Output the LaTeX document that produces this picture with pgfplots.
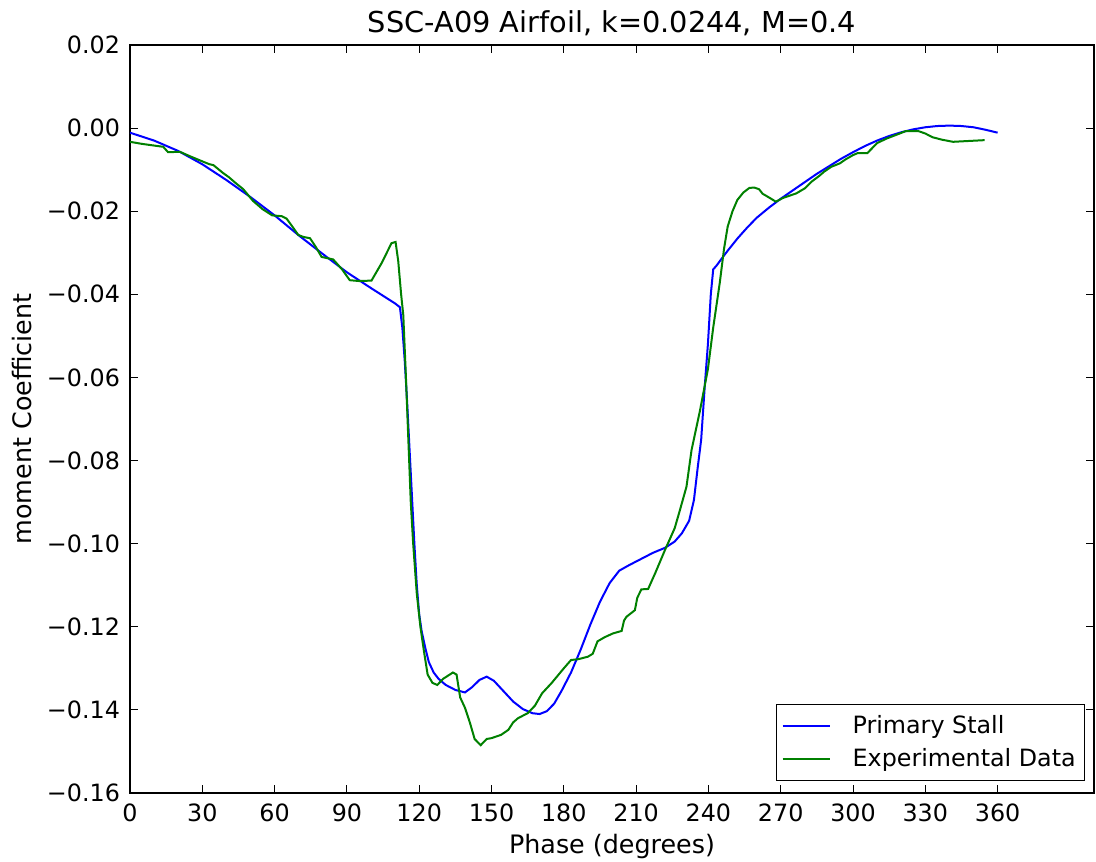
\documentclass[border=0pt]{standalone}
\usepackage{pgfplots}
\pgfplotsset{compat=1.18}
\usepackage{fontspec}
\setmainfont{DejaVu Sans}
\definecolor{mplblue}{rgb}{0,0,1}
\definecolor{mplgreen}{rgb}{0,0.5,0}
\begin{document}
\begin{tikzpicture}
\useasboundingbox (-65pt,-34pt) rectangle (483pt,396.5pt);
\begin{axis}[
  scale only axis,
  width=482pt, height=374pt,
  xmin=0, xmax=400, ymin=-0.16, ymax=0.02,
  xtick={0,30,...,360},
  ytick={-0.16,-0.14,-0.12,-0.10,-0.08,-0.06,-0.04,-0.02,0.00,0.02},
  yticklabels={−0.16,−0.14,−0.12,−0.10,−0.08,−0.06,−0.04,−0.02,0.00,0.02},
  xticklabels={0,30,60,90,120,150,180,210,240,270,300,330,360},
  tick align=inside,
  major tick length=4pt,
  tick style={black, line width=0.5pt},
  axis line style={black, line width=0.6pt},
  ticklabel style={font=\fontsize{11.9}{13}\selectfont},
  xticklabel style={yshift=-2pt},
  yticklabel style={xshift=-1.5pt},
  /pgf/number format/assume math mode=true,
  title={SSC-A09 Airfoil, k=0.0244, M=0.4},
  title style={font=\fontsize{14.4}{16}\selectfont, at={(axis description cs:0.5,1)}, anchor=base},
  xlabel={Phase (degrees)},
  ylabel={moment Coefficient},
  label style={font=\fontsize{12.7}{14}\selectfont},
  xlabel style={at={(axis description cs:0.5,0)}, anchor=center, yshift=-26.5pt},
  ylabel style={at={(axis description cs:0,0.5)}, anchor=center, yshift=54pt},
  legend style={at={(0.991,0.016)}, anchor=south east, draw=black, line width=0.6pt,
    font=\fontsize{11.9}{13}\selectfont, row sep=2pt, column sep=9pt, inner xsep=2.5pt, inner ysep=3.5pt},
  legend cell align=left,
  legend image code/.code={\path (-6pt,0pt) -- (17.5pt,0pt);\draw[#1, line width=1pt] (0pt,0pt) -- (17.5pt,0pt);},
]
\addplot[mplblue, line width=1pt] coordinates {
(0,-0.0011) (10,-0.0030) (20,-0.0055) (30,-0.0087) (40,-0.0125) (50,-0.0166)
(60,-0.0210) (70,-0.0258) (80,-0.0303) (90,-0.0347) (100,-0.0385) (110,-0.0422)
(112,-0.0431) (113,-0.048) (114,-0.056) (115,-0.066) (116.5,-0.083) (118,-0.100)
(119,-0.110) (120,-0.117) (121,-0.121) (122.5,-0.125) (124,-0.1285) (126,-0.131)
(128,-0.1325) (131,-0.134) (135,-0.1352) (139,-0.1358) (142,-0.1345) (145,-0.1328)
(148,-0.1320) (151,-0.1330) (155,-0.1355) (159,-0.1380) (163,-0.1398) (167,-0.1408)
(170,-0.1410) (173,-0.1403) (176,-0.1385) (179,-0.1355) (183,-0.1310) (187,-0.1255)
(191,-0.1195) (195,-0.1140) (199,-0.1095) (203,-0.1065) (207,-0.1052) (212,-0.1037)
(217,-0.1022) (222,-0.1010) (226,-0.0995) (229,-0.0975) (232,-0.0945) (234,-0.0895)
(235.5,-0.0820) (237,-0.0750) (238.5,-0.0620) (239.8,-0.0520) (241,-0.0400)
(242,-0.0340) (243.5,-0.0330) (245,-0.0318) (248,-0.0295) (252,-0.0266) (256,-0.0240)
(260,-0.0216) (265,-0.0192) (270,-0.0170) (275,-0.0150) (280,-0.0130) (285,-0.0110)
(290,-0.0092) (295,-0.0074) (300,-0.0058) (305,-0.0043) (310,-0.0030) (315,-0.0019)
(320,-0.0010) (325,-0.0003) (330,0.0002) (335,0.0005) (340,0.0006) (345,0.0005)
(350,0.0002) (355,-0.0004) (360,-0.0011)
};
\addlegendentry{Primary Stall}
\addplot[mplgreen, line width=1pt] coordinates {
(0,-0.0033) (5,-0.0038) (10,-0.0042) (13.8,-0.0045) (15.8,-0.0058) (20.7,-0.0057)
(25,-0.0068) (30,-0.0080) (33,-0.0087) (34.6,-0.0089) (38.6,-0.0108) (41,-0.0118)
(44,-0.0133) (47,-0.0147) (51,-0.0175) (55,-0.0195) (59,-0.0210) (63,-0.0212)
(65,-0.0218) (67.5,-0.0238) (69.8,-0.0257) (72,-0.0262) (74.7,-0.0265) (77,-0.0285)
(79.5,-0.0310) (84.3,-0.0316) (88,-0.0340) (91.2,-0.0366) (95,-0.0368) (100.2,-0.0367)
(104.4,-0.0325) (108.5,-0.0277) (110.2,-0.0274) (111.3,-0.0320) (112.5,-0.0400)
(113.4,-0.0450) (114.5,-0.0600) (115.5,-0.0750) (116.5,-0.0900) (117.5,-0.1000)
(119,-0.1120) (120.5,-0.1200) (122,-0.1260) (123.5,-0.1315) (125.5,-0.1335)
(127.5,-0.1340) (130,-0.1325) (134,-0.1310) (135.5,-0.1315) (137,-0.1370)
(139,-0.1395) (141,-0.1430) (143,-0.1470) (145.5,-0.1485) (148,-0.1470) (150,-0.1468)
(154,-0.1460) (157,-0.1448) (159,-0.1430) (161,-0.1420) (165,-0.1408) (168,-0.1390)
(171,-0.1360) (175,-0.1335) (180,-0.1300) (183,-0.1280) (186,-0.1278) (190,-0.1272)
(192,-0.1265) (194,-0.1235) (197,-0.1225) (200.4,-0.1216) (204,-0.1210) (205,-0.1185)
(206,-0.1176) (209.5,-0.1160) (210.5,-0.1130) (212.2,-0.1110) (215,-0.1109)
(218,-0.1070) (222,-0.1015) (226,-0.0963) (228,-0.0923) (230.9,-0.0863) (233,-0.0775)
(236.5,-0.0680) (239.8,-0.0580) (242,-0.0480) (244.7,-0.0373) (246.5,-0.0290)
(248,-0.0237) (250,-0.0200) (252,-0.0173) (254.5,-0.0155) (257,-0.0144) (259,-0.0143)
(261,-0.0147) (262.5,-0.0158) (264,-0.0163) (266,-0.0170) (268,-0.0177) (271,-0.0168)
(274,-0.0162) (276.5,-0.0157) (280,-0.0145) (283,-0.0128) (286,-0.0115) (288,-0.0105)
(291,-0.0093) (294.5,-0.0085) (297,-0.0075) (300,-0.0065) (302,-0.0060) (306,-0.0060)
(308,-0.0048) (310,-0.0036) (314,-0.0025) (319.4,-0.0013) (322,-0.0007) (327,-0.0007)
(330,-0.0013) (333,-0.0022) (337,-0.0028) (341.5,-0.0033) (348,-0.0031) (354.6,-0.0029)
};
\addlegendentry{Experimental Data}
\end{axis}
\end{tikzpicture}
\end{document}
